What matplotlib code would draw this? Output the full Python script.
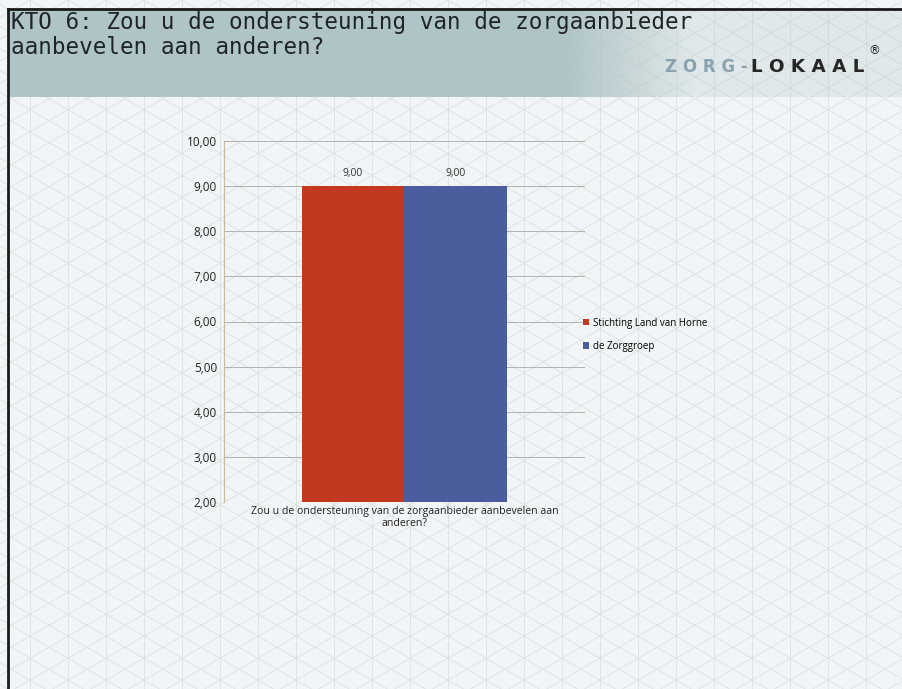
import numpy as np
import matplotlib.pyplot as plt

# data
categorie = "Zou u de ondersteuning van de zorgaanbieder aanbevelen aan\nanderen?"
reeksen = ["Stichting Land van Horne", "de Zorggroep"]
waarden = [9.00, 9.00]
kleuren = ["#c2391f", "#4c5d9e"]
y_ticks = [2, 3, 4, 5, 6, 7, 8, 9, 10]

W, H = 903, 689
fig = plt.figure(figsize=(W / 100, H / 100), dpi=100)
fig.patch.set_facecolor("#f1f5f7")

# achtergrond: isometrisch raster
bg = fig.add_axes([0, 0, 1, 1])
bg.set_xlim(0, W)
bg.set_ylim(H, 0)
bg.axis("off")
lc = "#dbe1e1"
for x in np.arange(-1300, W + 1300, 38):
    bg.plot([x, x], [0, H], color=lc, lw=0.6, zorder=0)
    bg.plot([x, x + H * np.sqrt(3)], [0, H], color=lc, lw=0.6, zorder=0)
    bg.plot([x, x - H * np.sqrt(3)], [0, H], color=lc, lw=0.6, zorder=0)

# kopbalk met verloop
grad = np.linspace(0, 1, 300)
img = np.zeros((1, 300, 4))
img[..., 0] = 0.69
img[..., 1] = 0.77
img[..., 2] = 0.78
img[..., 3] = np.where(grad < 0.62, 1.0, np.clip(1 - (grad - 0.62) / 0.2, 0.25, 1))
bg.imshow(img, extent=[8, W, 97, 9], aspect="auto", zorder=1)
bg.plot([8, 8], [9, H], color="#1a1a1a", lw=2, zorder=3)
bg.plot([8, W], [9, 9], color="#1a1a1a", lw=2, zorder=3)

# titel, twee regels
bg.text(11, 23, "KTO 6: Zou u de ondersteuning van de zorgaanbieder",
        family="DejaVu Sans Mono", fontsize=16.3, color="#1e2428", va="center", ha="left", zorder=4)
bg.text(11, 48, "aanbevelen aan anderen?",
        family="DejaVu Sans Mono", fontsize=16.3, color="#1e2428", va="center", ha="left", zorder=4)

# logo
bg.text(665, 67, "Z O R G -", family="DejaVu Sans", fontweight="bold", fontsize=12,
        color="#8aa2ad", va="center", ha="left", zorder=4)
bg.text(751, 67, "L O K A A L", family="DejaVu Sans", fontweight="bold", fontsize=13.2,
        color="#262626", va="center", ha="left", zorder=4)
bg.text(868, 51, "®", family="DejaVu Sans", fontsize=8.5, color="#262626",
        va="center", ha="left", zorder=4)

# grafiek
ax = fig.add_axes([224 / W, 1 - 502 / H, 361 / W, 361 / H])
ax.patch.set_alpha(0)
x_pos = [-0.285, 0.285]
ax.bar(x_pos, [v - 2 for v in waarden], bottom=2, width=0.57,
       color=kleuren, label=reeksen, zorder=3)
for xp, v in zip(x_pos, waarden):
    ax.text(xp, v + 0.15, f"{v:.2f}".replace(".", ","), ha="center", va="bottom",
            fontsize=7.5, family="Open Sans", color="#333333")
ax.set_xlim(-1, 1)
ax.set_ylim(2, 10)
ax.set_yticks(y_ticks)
ax.set_yticklabels([f"{t:.2f}".replace(".", ",") for t in y_ticks],
                   family="Open Sans", fontsize=8.5, color="#222222")
ax.set_xticks([0])
ax.set_xticklabels([categorie], family="Open Sans", fontsize=7.6, color="#222222",
                   linespacing=1.05)
ax.tick_params(axis="both", length=0)
ax.tick_params(axis="y", pad=5)
ax.tick_params(axis="x", pad=3)
ax.yaxis.grid(True, color="#a8a8a0", lw=0.6, zorder=1)
for s in ["top", "right", "bottom"]:
    ax.spines[s].set_visible(False)
ax.spines["left"].set_color("#c9b9a0")
ax.spines["left"].set_linewidth(0.8)

ax.legend(loc="center left", bbox_to_anchor=(350 / 361, 0.463), frameon=False,
          prop={"family": "Open Sans", "size": 7}, handlelength=0.6,
          handleheight=0.6, handletextpad=0.5, labelspacing=1.25)

fig.savefig("out.png", dpi=100, facecolor=fig.get_facecolor())
